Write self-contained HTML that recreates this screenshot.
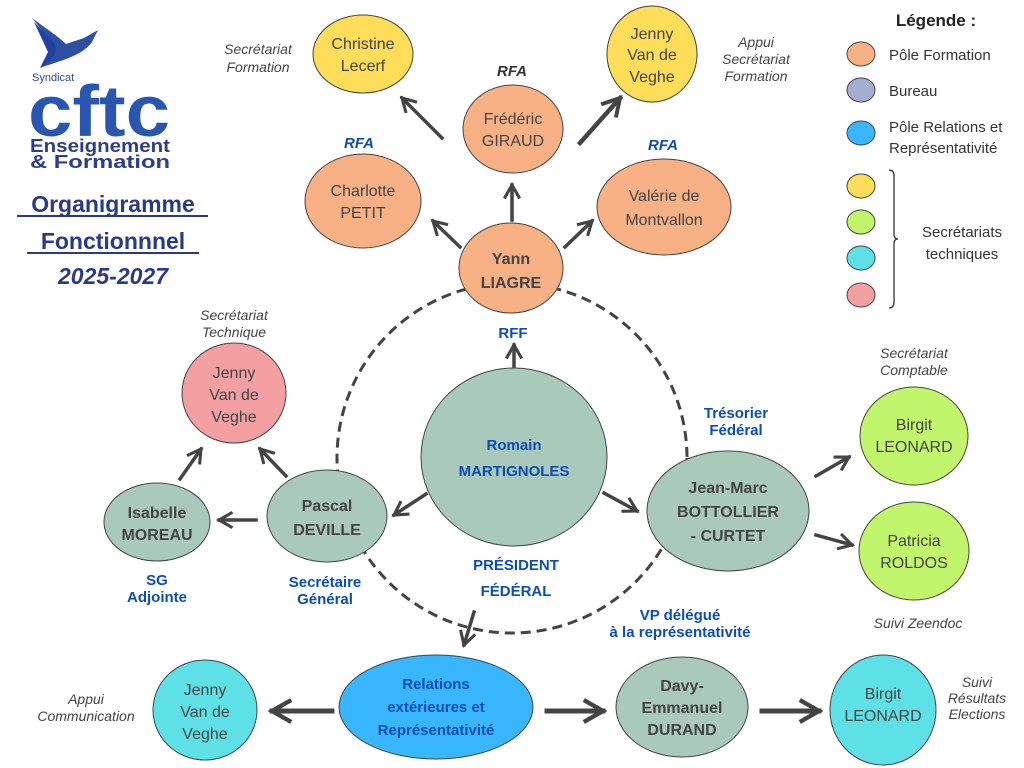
<!DOCTYPE html>
<html><head><meta charset="utf-8"><style>
html,body{margin:0;padding:0;background:#fff;}
svg{display:block;font-family:"Liberation Sans",sans-serif;}
.n{fill:#444;font-size:16px;text-anchor:middle;}
.b{fill:#444;font-size:16px;font-weight:bold;text-anchor:middle;}
.bl{fill:#0b4db5;font-size:15px;font-weight:bold;text-anchor:middle;}
.it{fill:#444;font-size:14px;font-style:italic;text-anchor:middle;}
.ar{stroke:#444;stroke-width:3.5;fill:none;stroke-linecap:square;}
</style></head><body>
<svg width="1024" height="768" viewBox="0 0 1024 768">
<defs>
<marker id="h" viewBox="0 0 10 10" refX="8" refY="5" markerWidth="5.5" markerHeight="5.5" orient="auto" markerUnits="strokeWidth">
<path d="M1,1 L8,5 L1,9" fill="none" stroke="#444" stroke-width="1.6"/>
</marker>
</defs>
<!-- logo -->
<g>
<path d="M32,18 C45,28 58,36 66,44 L84,38 L98,30 L92,42 C82,56 62,60 40,68 C52,58 56,50 50,40 Z" fill="#2e4fa3"/>
<path d="M34,22 L48,52 L40,68 C55,58 60,50 52,40 Z" fill="#2240a0"/>
<text x="32" y="81" font-size="11" fill="#2b4a9c">Syndicat</text>
<text x="28" y="136" font-size="72" font-weight="bold" fill="#2b56b0" textLength="142" lengthAdjust="spacingAndGlyphs">cftc</text>
<text x="30" y="152" font-size="18" font-weight="bold" fill="#2b3f8e" textLength="140" lengthAdjust="spacingAndGlyphs">Enseignement</text>
<text x="30" y="168" font-size="18" font-weight="bold" fill="#2b3f8e" textLength="140" lengthAdjust="spacingAndGlyphs">&amp; Formation</text>
</g>
<g font-size="23" font-weight="bold" fill="#2a3a8a" text-anchor="middle">
<text x="113" y="212">Organigramme</text>
<text x="113" y="249">Fonctionnnel</text>
<text x="113" y="284" font-style="italic">2025-2027</text>
</g>
<line x1="17" y1="216" x2="208" y2="216" stroke="#2a3a8a" stroke-width="2"/>
<line x1="27" y1="253" x2="199" y2="253" stroke="#2a3a8a" stroke-width="2"/>

<!-- legend -->
<text x="936" y="26" font-size="17" font-weight="bold" fill="#222" text-anchor="middle">Légende :</text>
<g stroke="#444" stroke-width="1">
<ellipse cx="861" cy="54" rx="14" ry="12" fill="#f8b185"/>
<ellipse cx="861" cy="90" rx="14" ry="12" fill="#a3aed0"/>
<ellipse cx="861" cy="133" rx="14" ry="12" fill="#38b6ff"/>
<ellipse cx="861" cy="186" rx="14" ry="12" fill="#fedd58"/>
<ellipse cx="861" cy="222" rx="14" ry="12" fill="#c1f56b"/>
<ellipse cx="861" cy="258" rx="14" ry="12" fill="#5de0e6"/>
<ellipse cx="861" cy="295" rx="14" ry="12" fill="#f4a0a3"/>
</g>
<g font-size="15" fill="#333">
<text x="889" y="60">Pôle Formation</text>
<text x="889" y="96">Bureau</text>
<text x="889" y="132">Pôle Relations et</text>
<text x="889" y="153">Représentativité</text>
<text x="962" y="237" text-anchor="middle">Secrétariats</text>
<text x="962" y="259" text-anchor="middle">techniques</text>
</g>
<path d="M889,170 Q894,170 894,176 L894,234 Q894,239 898,239 Q894,239 894,244 L894,302 Q894,308 889,308" fill="none" stroke="#333" stroke-width="1.3"/>

<!-- dashed circle -->
<circle cx="512" cy="458" r="175" fill="none" stroke="#444" stroke-width="3" stroke-dasharray="10,6"/>

<!-- arrows -->
<g class="ar" marker-end="url(#h)">
<line x1="442" y1="138" x2="402" y2="98"/>
<line x1="580" y1="143" x2="620" y2="98" stroke-width="4.5"/>
<line x1="512" y1="220" x2="512" y2="185"/>
<line x1="460" y1="247" x2="433" y2="221"/>
<line x1="565" y1="247" x2="592" y2="221"/>
<line x1="514" y1="383" x2="514" y2="345"/>
<line x1="426" y1="494" x2="394" y2="515"/>
<line x1="604" y1="493" x2="637" y2="511"/>
<line x1="286" y1="476" x2="260" y2="449"/>
<line x1="180" y1="479" x2="201" y2="449"/>
<line x1="256" y1="520" x2="219" y2="520"/>
<line x1="816" y1="476" x2="849" y2="457"/>
<line x1="816" y1="535" x2="852" y2="545"/>
<line x1="474" y1="612" x2="464" y2="645"/>
<line x1="332" y1="711" x2="272" y2="711" stroke-width="5"/>
<line x1="547" y1="711" x2="603" y2="711" stroke-width="5"/>
<line x1="762" y1="711" x2="819" y2="711" stroke-width="5"/>
</g>

<!-- nodes -->
<g stroke="#444" stroke-width="1">
<ellipse cx="363" cy="54" rx="50" ry="39" fill="#fedd58"/>
<ellipse cx="652" cy="54" rx="45" ry="48" fill="#fedd58"/>
<ellipse cx="513" cy="129" rx="50" ry="44" fill="#f8b185"/>
<ellipse cx="363" cy="201" rx="58" ry="47" fill="#f8b185"/>
<ellipse cx="664" cy="207" rx="67" ry="48" fill="#f8b185"/>
<ellipse cx="511" cy="268" rx="52" ry="45" fill="#f8b185"/>
<ellipse cx="514" cy="457" rx="93" ry="89" fill="#a8c9bb"/>
<ellipse cx="234" cy="393" rx="52" ry="50" fill="#f4a0a3"/>
<ellipse cx="157" cy="522" rx="53" ry="39" fill="#a8c9bb"/>
<ellipse cx="327" cy="516" rx="60" ry="46" fill="#a8c9bb"/>
<ellipse cx="728" cy="511" rx="81" ry="60" fill="#a8c9bb"/>
<ellipse cx="914" cy="436" rx="54" ry="49" fill="#c1f56b"/>
<ellipse cx="914" cy="551" rx="55" ry="49" fill="#c1f56b"/>
<ellipse cx="205" cy="710" rx="52" ry="50" fill="#5de0e6"/>
<ellipse cx="436" cy="707" rx="97" ry="52" fill="#38b6ff"/>
<ellipse cx="682" cy="707" rx="66" ry="50" fill="#a8c9bb"/>
<ellipse cx="883" cy="710" rx="53" ry="55" fill="#5de0e6"/>
</g>

<!-- node text -->
<text class="n" x="363" y="49">Christine</text><text class="n" x="363" y="71">Lecerf</text>
<text class="n" x="652" y="39">Jenny</text><text class="n" x="652" y="60">Van de</text><text class="n" x="652" y="82">Veghe</text>
<text class="n" x="513" y="124">Frédéric</text><text class="n" x="513" y="146">GIRAUD</text>
<text class="n" x="363" y="196">Charlotte</text><text class="n" x="363" y="218">PETIT</text>
<text class="n" x="664" y="201">Valérie de</text><text class="n" x="664" y="225">Montvallon</text>
<text class="b" x="511" y="264">Yann</text><text class="b" x="511" y="288">LIAGRE</text>
<text class="bl" x="514" y="450" font-size="18">Romain</text><text class="bl" x="514" y="476" font-size="18">MARTIGNOLES</text>
<text class="n" x="234" y="378">Jenny</text><text class="n" x="234" y="400">Van de</text><text class="n" x="234" y="422">Veghe</text>
<text class="b" x="157" y="518" font-size="15">Isabelle</text><text class="b" x="157" y="540" font-size="15">MOREAU</text>
<text class="b" x="327" y="511">Pascal</text><text class="b" x="327" y="535">DEVILLE</text>
<text class="b" x="728" y="493">Jean-Marc</text><text class="b" x="728" y="517">BOTTOLLIER</text><text class="b" x="728" y="541">- CURTET</text>
<text class="n" x="914" y="430">Birgit</text><text class="n" x="914" y="452">LEONARD</text>
<text class="n" x="914" y="546">Patricia</text><text class="n" x="914" y="568">ROLDOS</text>
<text class="n" x="205" y="695">Jenny</text><text class="n" x="205" y="717">Van de</text><text class="n" x="205" y="739">Veghe</text>
<text class="bl" x="436" y="689">Relations</text><text class="bl" x="436" y="712">extérieures et</text><text class="bl" x="436" y="735">Représentativité</text>
<text class="b" x="682" y="691" font-size="15">Davy-</text><text class="b" x="682" y="713" font-size="15">Emmanuel</text><text class="b" x="682" y="735" font-size="15">DURAND</text>
<text class="n" x="883" y="699">Birgit</text><text class="n" x="883" y="721">LEONARD</text>

<!-- labels -->
<text class="it" x="258" y="54">Secrétariat</text><text class="it" x="258" y="72">Formation</text>
<text class="it" x="756" y="47">Appui</text><text class="it" x="756" y="64">Secrétariat</text><text class="it" x="756" y="81">Formation</text>
<text class="bl" x="512" y="76" style="fill:#333;font-style:italic">RFA</text>
<text class="bl" x="359" y="148" style="font-style:italic">RFA</text>
<text class="bl" x="663" y="150" style="font-style:italic">RFA</text>
<text class="bl" x="513" y="338" font-size="14">RFF</text>
<text class="it" x="234" y="320">Secrétariat</text><text class="it" x="234" y="337">Technique</text>
<text class="bl" x="736" y="418" font-size="14">Trésorier</text><text class="bl" x="736" y="435" font-size="14">Fédéral</text>
<text class="it" x="914" y="358">Secrétariat</text><text class="it" x="914" y="375">Comptable</text>
<text class="bl" x="157" y="585" font-size="14">SG</text><text class="bl" x="157" y="602" font-size="14">Adjointe</text>
<text class="bl" x="325" y="587" font-size="14">Secrétaire</text><text class="bl" x="325" y="604" font-size="14">Général</text>
<text class="bl" x="516" y="570" font-size="18">PRÉSIDENT</text><text class="bl" x="516" y="596" font-size="18">FÉDÉRAL</text>
<text class="bl" x="680" y="620" font-size="14">VP délégué</text><text class="bl" x="680" y="637" font-size="14">à la représentativité</text>
<text class="it" x="918" y="628">Suivi Zeendoc</text>
<text class="it" x="86" y="704">Appui</text><text class="it" x="86" y="721">Communication</text>
<text class="it" x="977" y="687">Suivi</text><text class="it" x="977" y="703">Résultats</text><text class="it" x="977" y="719">Elections</text>
</svg>
</body></html>
